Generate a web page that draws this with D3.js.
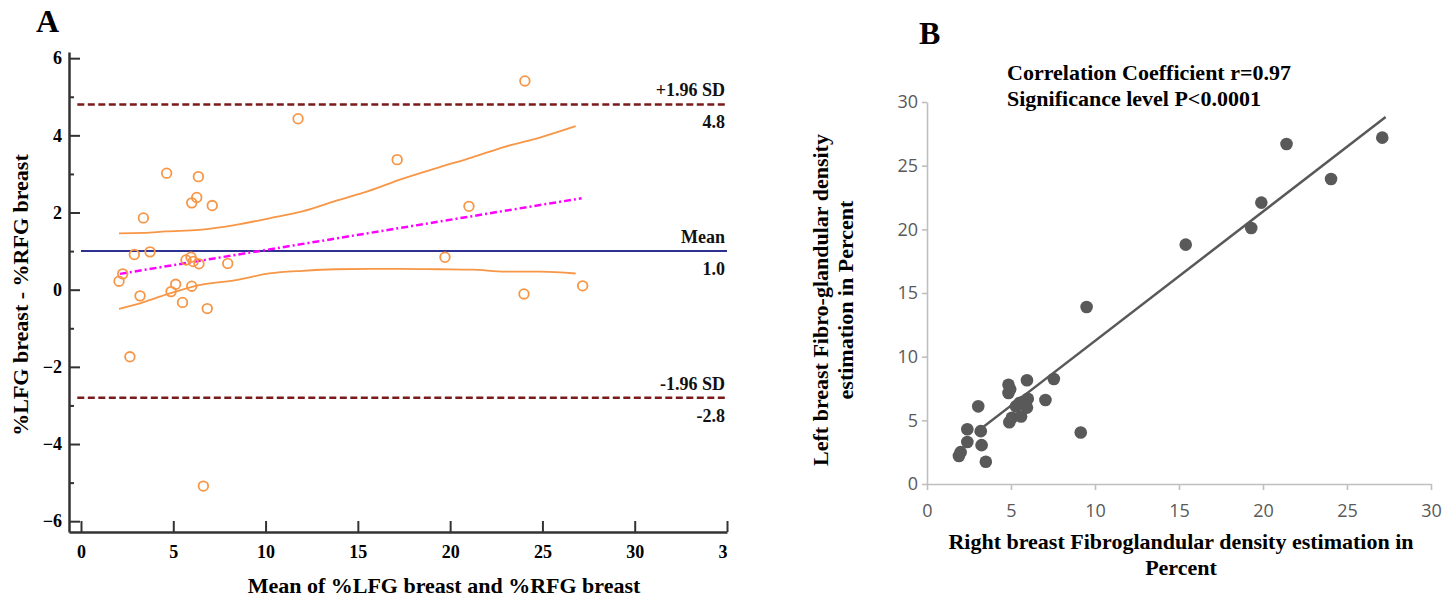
<!DOCTYPE html>
<html>
<head>
<meta charset="utf-8">
<script src="https://cdn.jsdelivr.net/npm/d3@7"></script>
<style>
  body { margin: 0; background: #fff; }
  .serif { font-family: "Liberation Serif", "Times New Roman", serif; font-weight: bold; }
</style>
</head>
<body>
<div id="chart"></div>
<script>
// ---- Panel A: Bland-Altman data ----
const meanVals = [2.06, 2.26, 2.65, 2.89, 3.2, 3.38, 3.74, 4.64, 4.88, 5.13, 5.5, 5.69, 5.96, 6.0, 6.0,
                  6.08, 6.27, 6.36, 6.39, 6.63, 6.84, 7.11, 7.95, 11.76, 17.13, 19.72, 21.02, 24.05, 24.0, 27.18];
const diffVals = [0.22, 0.41, -1.74, 0.91, -0.16, 1.86, 0.98, 3.02, -0.05, 0.14, -0.33, 0.77, 0.84, 0.09, 2.25,
                  0.73, 2.39, 2.93, 0.67, -5.09, -0.49, 2.18, 0.68, 4.43, 3.37, 0.84, 2.16, 5.41, -0.11, 0.10];
const ciX     = [2.06, 3.4, 4.6, 6.4, 8.4, 10.2, 12.0, 13.8, 15.6, 17.4, 19.4, 21.2, 23.0, 24.9, 26.8];
const ciUpper = [1.46, 1.47, 1.51, 1.55, 1.68, 1.85, 2.03, 2.3, 2.56, 2.87, 3.17, 3.43, 3.71, 3.95, 4.24];
const ciLower = [-0.5, -0.32, -0.13, 0.12, 0.25, 0.42, 0.49, 0.53, 0.54, 0.54, 0.53, 0.52, 0.47, 0.47, 0.42];
const regX = [2.11, 27.12];
const regY = [0.41, 2.37];
const refLines = [
  { value: 4.8, top: "+1.96 SD", bottom: "4.8" },
  { value: 1.0, top: "Mean", bottom: "1.0" },
  { value: -2.8, top: "-1.96 SD", bottom: "-2.8" }
];
const aXTicks = [0, 5, 10, 15, 20, 25, 30, 35];
const aYTicks = [-6, -4, -2, 0, 2, 4, 6];
const aYMinor = [-5, -3, -1, 1, 3, 5];

// ---- Panel B: correlation data ----
const rightPct = [1.9, 2.0, 3.5, 2.4, 3.25, 2.4, 3.2, 3.05, 4.9, 5.05, 5.6, 5.3, 5.5, 5.95, 4.85,
                  5.7, 4.95, 4.85, 6.0, 9.15, 7.05, 5.95, 7.55, 9.5, 15.4, 19.3, 19.9, 21.4, 24.05, 27.1];
const leftPct  = [2.2, 2.5, 1.75, 3.3, 3.05, 4.3, 4.15, 6.1, 4.85, 5.2, 5.3, 6.1, 6.35, 6.0, 7.15,
                  6.45, 7.45, 7.8, 6.7, 4.05, 6.6, 8.15, 8.25, 13.9, 18.8, 20.1, 22.1, 26.7, 23.95, 27.2];
const fitX = [2.86, 27.3];
const fitY = [3.98, 28.82];
const bTicks = [0, 5, 10, 15, 20, 25, 30];

const width = 1455, height = 598;
const orange = "#f79646";

const svg = d3.select("#chart").append("svg")
  .attr("width", width).attr("height", height);

// ================= Panel A =================
const xA = d3.scaleLinear().domain([-0.65, 35]).range([69, 727]);
const yA = d3.scaleLinear().domain([-6.28, 6.16]).range([532, 52]);

svg.append("text").attr("class", "serif").attr("x", 36).attr("y", 32)
  .attr("font-size", 32).text("A");

// minor y ticks
svg.append("g").attr("transform", "translate(69,0)")
  .call(d3.axisLeft(yA).tickValues(aYMinor).tickSize(-5).tickFormat(""))
  .call(g => g.select(".domain").remove())
  .call(g => g.selectAll("line").attr("stroke", "#333").attr("stroke-width", 2));

// major y axis
svg.append("g").attr("transform", "translate(69,0)")
  .call(d3.axisLeft(yA).tickValues(aYTicks).tickSizeInner(-11).tickSizeOuter(0).tickPadding(7))
  .call(g => g.select(".domain").attr("stroke", "#333").attr("stroke-width", 2.5))
  .call(g => g.selectAll("line").attr("stroke", "#333").attr("stroke-width", 2))
  .call(g => g.selectAll("text").attr("class", "serif").attr("font-size", 18).attr("fill", "#000"));

// x axis; the last label is cut off in the source, keep only its first digit
svg.append("clipPath").attr("id", "clipLast")
  .append("rect").attr("x", -30).attr("y", -10).attr("width", 30).attr("height", 60);
svg.append("g").attr("transform", "translate(0,532)")
  .call(d3.axisBottom(xA).tickValues(aXTicks).tickSizeInner(-11).tickSizeOuter(0).tickPadding(13))
  .call(g => g.select(".domain").attr("stroke", "#333").attr("stroke-width", 2.5))
  .call(g => g.selectAll("line").attr("stroke", "#333").attr("stroke-width", 2))
  .call(g => g.selectAll("text").attr("class", "serif").attr("font-size", 18).attr("fill", "#000"))
  .call(g => g.selectAll("text").filter(d => d === 35).attr("clip-path", "url(#clipLast)"));

// reference lines
refLines.forEach(r => {
  const isMean = r.top === "Mean";
  svg.append("line")
    .attr("x1", isMean ? xA(0) : xA(-0.2)).attr("x2", xA(35))
    .attr("y1", yA(r.value)).attr("y2", yA(r.value))
    .attr("stroke", isMean ? "#2e3192" : "#7b1a1a")
    .attr("stroke-width", isMean ? 2 : 2.5)
    .attr("stroke-dasharray", isMean ? null : "7,3.5");
  svg.append("text").attr("class", "serif").attr("text-anchor", "end")
    .attr("x", 725).attr("y", yA(r.value) - 8).attr("font-size", 18).attr("fill", "#111").text(r.top);
  svg.append("text").attr("class", "serif").attr("text-anchor", "end")
    .attr("x", 725).attr("y", yA(r.value) + 24).attr("font-size", 18).attr("fill", "#111").text(r.bottom);
});

// confidence curves
const ciLine = d3.line().x((d, i) => xA(ciX[i])).y(d => yA(d)).curve(d3.curveMonotoneX);
[ciUpper, ciLower].forEach(arr => {
  svg.append("path").datum(arr).attr("d", ciLine)
    .attr("fill", "none").attr("stroke", orange).attr("stroke-width", 1.8);
});

// regression line
svg.append("path").datum(regY)
  .attr("d", d3.line().x((d, i) => xA(regX[i])).y(d => yA(d)))
  .attr("fill", "none").attr("stroke", "#ff00ff").attr("stroke-width", 2.5)
  .attr("stroke-dasharray", "7,3,2,3");

// points
svg.append("g").selectAll("circle").data(meanVals).enter().append("circle")
  .attr("cx", d => xA(d)).attr("cy", (d, i) => yA(diffVals[i]))
  .attr("r", 4.8).attr("fill", "none").attr("stroke", orange).attr("stroke-width", 1.8);

// axis titles
svg.append("text").attr("class", "serif").attr("text-anchor", "middle")
  .attr("x", 444).attr("y", 593).attr("font-size", 22).text("Mean of %LFG breast and %RFG breast");
svg.append("text").attr("class", "serif").attr("text-anchor", "middle")
  .attr("transform", "translate(28,295) rotate(-90)").attr("font-size", 22)
  .text("%LFG breast - %RFG breast");

// ================= Panel B =================
const xB = d3.scaleLinear().domain([0, 30]).range([927, 1431]);
const yB = d3.scaleLinear().domain([0, 30]).range([484, 102]);
const gray = "#595959";

svg.append("text").attr("class", "serif").attr("x", 919).attr("y", 44)
  .attr("font-size", 32).text("B");

svg.append("g").attr("transform", "translate(0,484)")
  .call(d3.axisBottom(xB).tickValues(bTicks).tickSizeInner(6).tickSizeOuter(0).tickPadding(14))
  .call(g => g.selectAll(".domain, line").attr("stroke", "#bfbfbf").attr("stroke-width", 1.6))
  .call(g => g.selectAll("text").attr("font-family", "'Open Sans', sans-serif")
    .attr("font-size", 18).attr("fill", gray));

svg.append("g").attr("transform", "translate(927,0)")
  .call(d3.axisLeft(yB).tickValues(bTicks).tickSizeInner(5).tickSizeOuter(0).tickPadding(4))
  .call(g => g.selectAll(".domain, line").attr("stroke", "#bfbfbf").attr("stroke-width", 1.6))
  .call(g => g.selectAll("text").attr("font-family", "'Open Sans', sans-serif")
    .attr("font-size", 18).attr("fill", gray));

svg.append("path").datum(fitY)
  .attr("d", d3.line().x((d, i) => xB(fitX[i])).y(d => yB(d)))
  .attr("fill", "none").attr("stroke", gray).attr("stroke-width", 2.5);

svg.append("g").selectAll("circle").data(rightPct).enter().append("circle")
  .attr("cx", d => xB(d)).attr("cy", (d, i) => yB(leftPct[i]))
  .attr("r", 6.3).attr("fill", gray);

svg.append("text").attr("class", "serif").attr("x", 1007).attr("y", 80)
  .attr("font-size", 22).text("Correlation Coefficient r=0.97");
svg.append("text").attr("class", "serif").attr("x", 1007).attr("y", 106)
  .attr("font-size", 22).text("Significance level P<0.0001");

svg.append("text").attr("class", "serif").attr("text-anchor", "middle")
  .attr("x", 1181).attr("y", 549).attr("font-size", 22)
  .text("Right breast Fibroglandular density estimation in");
svg.append("text").attr("class", "serif").attr("text-anchor", "middle")
  .attr("x", 1181).attr("y", 575).attr("font-size", 22).text("Percent");

svg.append("text").attr("class", "serif").attr("text-anchor", "middle")
  .attr("transform", "translate(828,300) rotate(-90)").attr("font-size", 22)
  .text("Left breast Fibro-glandular density");
svg.append("text").attr("class", "serif").attr("text-anchor", "middle")
  .attr("transform", "translate(853,300) rotate(-90)").attr("font-size", 22)
  .text("estimation in Percent");
</script>
</body>
</html>
